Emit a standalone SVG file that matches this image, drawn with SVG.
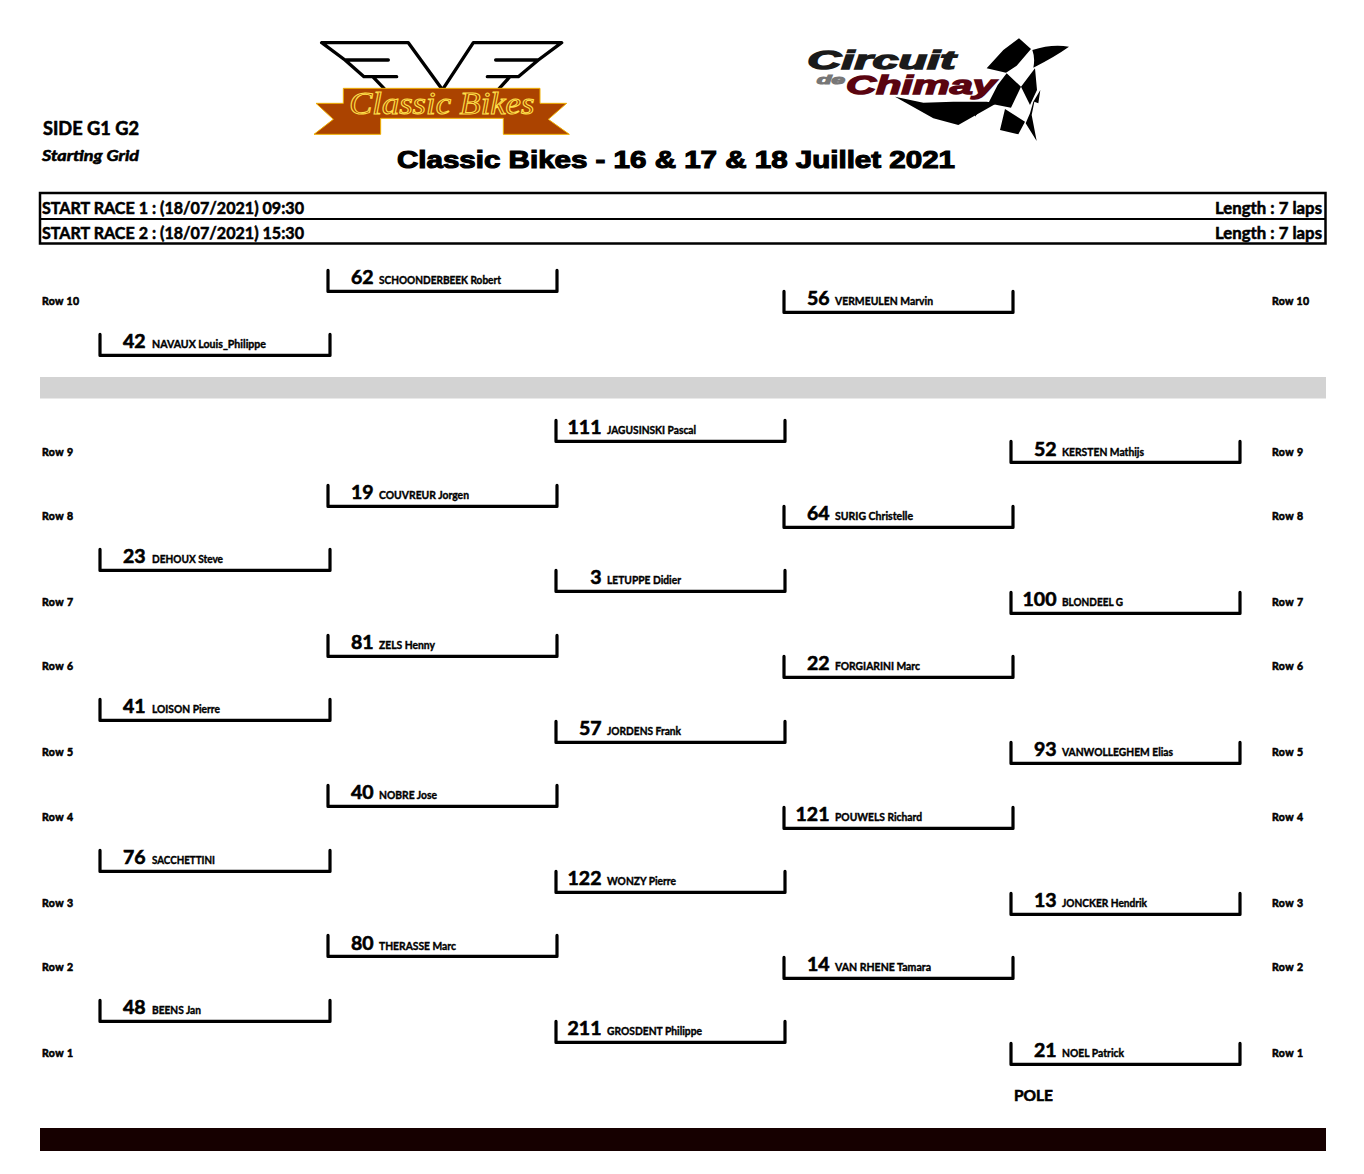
<svg xmlns="http://www.w3.org/2000/svg" width="1364" height="1174" viewBox="0 0 1364 1174">
<style>
text{font-family:Lato,"Noto Sans",sans-serif;font-weight:700;fill:#000}
.n{font-size:19.5px;text-anchor:end;stroke:#000;stroke-width:.6}
.m{font-size:11.5px;stroke:#000;stroke-width:.4}
.r{font-size:10.5px;stroke:#000;stroke-width:.6}
.h{font-size:17px;stroke:#000;stroke-width:.55}
.b{fill:none;stroke:#000;stroke-width:3.2;stroke-linejoin:round;stroke-linecap:round;transform:translate(0,.4px)}
</style>
<rect width="1364" height="1174" fill="#fff"/>
<g id="logo-classic-bikes" transform="translate(290,20) scale(.33333)">
<path d="M95 68H355L452 202M95 68L165 120H295M165 120L222 170H320M248 170L282 205M815 68H550L462 202M815 68L745 120H617M745 120L685 170H592M660 170L628 205" fill="none" stroke="#000" stroke-width="10" stroke-linecap="round" stroke-linejoin="round"/>
<path d="M160 205H750V250H830L775 298L838 343H640V295H272V343H72L130 298L78 250H160Z" fill="#ab4300" stroke="#f0b000" stroke-width="3"/>
<text x="178" y="283" textLength="555" lengthAdjust="spacingAndGlyphs" style="font-family:'Liberation Serif',serif;font-style:italic;font-weight:400;font-size:92px;fill:none;stroke:#ffe04a;stroke-width:3">Classic Bikes</text>
</g>
<g id="logo-circuit" transform="translate(790,25) scale(.33333)">
<text x="52" y="132" textLength="445" lengthAdjust="spacingAndGlyphs" style="font-family:'Liberation Sans',sans-serif;font-style:italic;font-weight:700;font-size:75px;fill:#1a1a1a;stroke:#1a1a1a;stroke-width:4">Circuit</text>
<text x="80" y="177" textLength="85" lengthAdjust="spacingAndGlyphs" style="font-family:'Liberation Sans',sans-serif;font-style:italic;font-weight:700;font-size:36px;fill:#777;stroke:#777;stroke-width:3">de</text>
<text x="168" y="207" textLength="450" lengthAdjust="spacingAndGlyphs" style="font-family:'Liberation Sans',sans-serif;font-style:italic;font-weight:700;font-size:75px;fill:#5a0410;stroke:#5a0410;stroke-width:4">Chimay</text>
<path d="M315 215L400 233L490 230L590 230L620 235L505 300L430 280Z" fill="#000"/>
</g>
<g id="flag" transform="translate(975,35) scale(.33333)">
<path d="M132 10L168 42L125 92L93 113L35 100L85 45ZM172 45Q230 26 282 35Q240 65 175 98Q181 70 172 45ZM95 115L138 155L108 218L40 205L68 150ZM30 205L0 245V215ZM180 100L186 165L165 210L138 155ZM90 222L150 260L130 298L75 285ZM196 165L175 200L165 235L152 265L185 318L170 240L178 200L190 205Z" fill="#000"/>
</g>
<g id="header">
<text x="43" y="135" style="font-size:19px;stroke:#000;stroke-width:.6" textLength="96" lengthAdjust="spacingAndGlyphs">SIDE G1 G2</text>
<text x="42" y="161" style="font-size:16px;font-style:italic;stroke:#000;stroke-width:.6" textLength="97" lengthAdjust="spacingAndGlyphs">Starting Grid</text>
<text x="397" y="168" textLength="558" lengthAdjust="spacingAndGlyphs" style="font-family:'Liberation Sans',sans-serif;font-size:24px;stroke:#000;stroke-width:1.1">Classic Bikes - 16 &amp; 17 &amp; 18 Juillet 2021</text>
<rect x="40" y="193" width="1285.500" height="50.500" fill="none" stroke="#000" stroke-width="2.500"/>
<path d="M40 219H1325" stroke="#000" stroke-width="2"/>
<text class="h" x="42" y="214" textLength="262" lengthAdjust="spacingAndGlyphs">START RACE 1 : (18/07/2021) 09:30</text>
<text class="h" x="42" y="239" textLength="262" lengthAdjust="spacingAndGlyphs">START RACE 2 : (18/07/2021) 15:30</text>
<text class="h" x="1215" y="214" textLength="107" lengthAdjust="spacingAndGlyphs">Length : 7 laps</text>
<text class="h" x="1215" y="239" textLength="107" lengthAdjust="spacingAndGlyphs">Length : 7 laps</text>
</g>
<rect id="separator" x="40" y="377" width="1286" height="21.500" fill="#d3d3d3"/>
<g id="row-labels">
<text class="r" x="42" y="305" textLength="37">Row 10</text><text class="r" x="1272" y="305" textLength="37">Row 10</text>
<text class="r" x="42" y="456" textLength="31">Row 9</text><text class="r" x="1272" y="456" textLength="31">Row 9</text>
<text class="r" x="42" y="520" textLength="31">Row 8</text><text class="r" x="1272" y="520" textLength="31">Row 8</text>
<text class="r" x="42" y="606" textLength="31">Row 7</text><text class="r" x="1272" y="606" textLength="31">Row 7</text>
<text class="r" x="42" y="670" textLength="31">Row 6</text><text class="r" x="1272" y="670" textLength="31">Row 6</text>
<text class="r" x="42" y="756" textLength="31">Row 5</text><text class="r" x="1272" y="756" textLength="31">Row 5</text>
<text class="r" x="42" y="821" textLength="31">Row 4</text><text class="r" x="1272" y="821" textLength="31">Row 4</text>
<text class="r" x="42" y="907" textLength="31">Row 3</text><text class="r" x="1272" y="907" textLength="31">Row 3</text>
<text class="r" x="42" y="971" textLength="31">Row 2</text><text class="r" x="1272" y="971" textLength="31">Row 2</text>
<text class="r" x="42" y="1057" textLength="31">Row 1</text><text class="r" x="1272" y="1057" textLength="31">Row 1</text>
</g>
<g id="car-62"><path class="b" d="M328 270V291H557V270"/><text class="n" x="373.500" y="284">62</text><text class="m" x="379" y="284" textLength="122" lengthAdjust="spacingAndGlyphs">SCHOONDERBEEK Robert</text></g>
<g id="car-56"><path class="b" d="M784 291V312H1013V291"/><text class="n" x="829.500" y="305">56</text><text class="m" x="835" y="305" textLength="98" lengthAdjust="spacingAndGlyphs">VERMEULEN Marvin</text></g>
<g id="car-42"><path class="b" d="M100 334V355H330V334"/><text class="n" x="145.500" y="348">42</text><text class="m" x="152" y="348" textLength="114" lengthAdjust="spacingAndGlyphs">NAVAUX Louis_Philippe</text></g>
<g id="car-111"><path class="b" d="M556 420V441H785V420"/><text class="n" x="601.500" y="434">111</text><text class="m" x="607" y="434" textLength="89" lengthAdjust="spacingAndGlyphs">JAGUSINSKI Pascal</text></g>
<g id="car-52"><path class="b" d="M1011 441V462H1240V441"/><text class="n" x="1056.500" y="456">52</text><text class="m" x="1062" y="456" textLength="82" lengthAdjust="spacingAndGlyphs">KERSTEN Mathijs</text></g>
<g id="car-19"><path class="b" d="M328 485V506H557V485"/><text class="n" x="373.500" y="499">19</text><text class="m" x="379" y="499" textLength="90" lengthAdjust="spacingAndGlyphs">COUVREUR Jorgen</text></g>
<g id="car-64"><path class="b" d="M784 506V527H1013V506"/><text class="n" x="829.500" y="520">64</text><text class="m" x="835" y="520" textLength="78" lengthAdjust="spacingAndGlyphs">SURIG Christelle</text></g>
<g id="car-23"><path class="b" d="M100 549V570H330V549"/><text class="n" x="145.500" y="563">23</text><text class="m" x="152" y="563" textLength="71" lengthAdjust="spacingAndGlyphs">DEHOUX Steve</text></g>
<g id="car-3"><path class="b" d="M556 570V591H785V570"/><text class="n" x="601.500" y="584">3</text><text class="m" x="607" y="584" textLength="74" lengthAdjust="spacingAndGlyphs">LETUPPE Didier</text></g>
<g id="car-100"><path class="b" d="M1011 592V613H1240V592"/><text class="n" x="1056.500" y="606">100</text><text class="m" x="1062" y="606" textLength="61" lengthAdjust="spacingAndGlyphs">BLONDEEL G</text></g>
<g id="car-81"><path class="b" d="M328 635V656H557V635"/><text class="n" x="373.500" y="649">81</text><text class="m" x="379" y="649" textLength="56" lengthAdjust="spacingAndGlyphs">ZELS Henny</text></g>
<g id="car-22"><path class="b" d="M784 656V677H1013V656"/><text class="n" x="829.500" y="670">22</text><text class="m" x="835" y="670" textLength="85" lengthAdjust="spacingAndGlyphs">FORGIARINI Marc</text></g>
<g id="car-41"><path class="b" d="M100 699V720H330V699"/><text class="n" x="145.500" y="713">41</text><text class="m" x="152" y="713" textLength="68" lengthAdjust="spacingAndGlyphs">LOISON Pierre</text></g>
<g id="car-57"><path class="b" d="M556 721V742H785V721"/><text class="n" x="601.500" y="735">57</text><text class="m" x="607" y="735" textLength="74" lengthAdjust="spacingAndGlyphs">JORDENS Frank</text></g>
<g id="car-93"><path class="b" d="M1011 742V763H1240V742"/><text class="n" x="1056.500" y="756">93</text><text class="m" x="1062" y="756" textLength="111" lengthAdjust="spacingAndGlyphs">VANWOLLEGHEM Elias</text></g>
<g id="car-40"><path class="b" d="M328 785V806H557V785"/><text class="n" x="373.500" y="799">40</text><text class="m" x="379" y="799" textLength="58" lengthAdjust="spacingAndGlyphs">NOBRE Jose</text></g>
<g id="car-121"><path class="b" d="M784 807V828H1013V807"/><text class="n" x="829.500" y="821">121</text><text class="m" x="835" y="821" textLength="87" lengthAdjust="spacingAndGlyphs">POUWELS Richard</text></g>
<g id="car-76"><path class="b" d="M100 850V871H330V850"/><text class="n" x="145.500" y="864">76</text><text class="m" x="152" y="864" textLength="63" lengthAdjust="spacingAndGlyphs">SACCHETTINI</text></g>
<g id="car-122"><path class="b" d="M556 871V892H785V871"/><text class="n" x="601.500" y="885">122</text><text class="m" x="607" y="885" textLength="69" lengthAdjust="spacingAndGlyphs">WONZY Pierre</text></g>
<g id="car-13"><path class="b" d="M1011 893V914H1240V893"/><text class="n" x="1056.500" y="907">13</text><text class="m" x="1062" y="907" textLength="85" lengthAdjust="spacingAndGlyphs">JONCKER Hendrik</text></g>
<g id="car-80"><path class="b" d="M328 935V956H557V935"/><text class="n" x="373.500" y="950">80</text><text class="m" x="379" y="950" textLength="77" lengthAdjust="spacingAndGlyphs">THERASSE Marc</text></g>
<g id="car-14"><path class="b" d="M784 957V978H1013V957"/><text class="n" x="829.500" y="971">14</text><text class="m" x="835" y="971" textLength="96" lengthAdjust="spacingAndGlyphs">VAN RHENE Tamara</text></g>
<g id="car-48"><path class="b" d="M100 1000V1021H330V1000"/><text class="n" x="145.500" y="1014">48</text><text class="m" x="152" y="1014" textLength="49" lengthAdjust="spacingAndGlyphs">BEENS Jan</text></g>
<g id="car-211"><path class="b" d="M556 1021V1042H785V1021"/><text class="n" x="601.500" y="1035">211</text><text class="m" x="607" y="1035" textLength="95" lengthAdjust="spacingAndGlyphs">GROSDENT Philippe</text></g>
<g id="car-21"><path class="b" d="M1011 1043V1064H1240V1043"/><text class="n" x="1056.500" y="1057">21</text><text class="m" x="1062" y="1057" textLength="62" lengthAdjust="spacingAndGlyphs">NOEL Patrick</text></g>
<text x="1014" y="1101" style="font-size:16px;stroke:#000;stroke-width:.6" textLength="39" lengthAdjust="spacingAndGlyphs">POLE</text>
<rect id="footer" x="40" y="1128" width="1286" height="23" fill="#160000"/>
</svg>
